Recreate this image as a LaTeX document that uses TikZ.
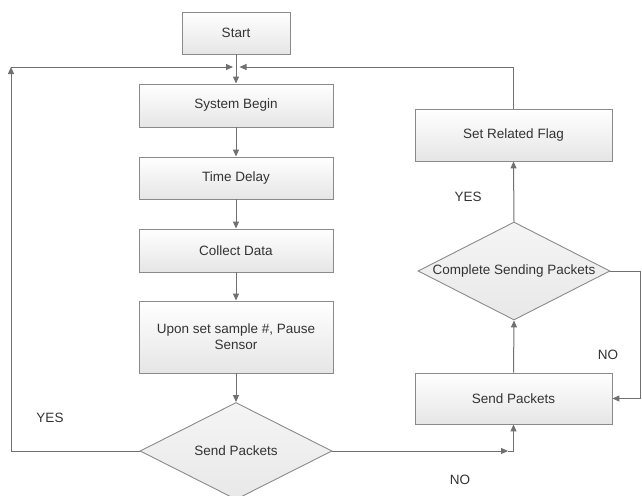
\documentclass[tikz,border=0pt]{standalone}
\usepackage{fontspec}
\setmainfont{Liberation Sans}
\usetikzlibrary{shapes.geometric,arrows.meta,calc}
\definecolor{linec}{HTML}{707070}
\definecolor{boxline}{HTML}{8A8A8A}
\definecolor{txtc}{HTML}{333333}
\begin{document}
\begin{tikzpicture}[x=1pt,y=-1pt,
  font=\fontsize{13.5}{16}\selectfont, text=txtc,
  box/.style={draw=boxline, line width=0.9pt, top color=white, bottom color=black!10, minimum width=#1, inner sep=0pt, align=center},
  dia/.style={draw=boxline, line width=0.9pt, shape=diamond, top color=white!96!black, bottom color=black!9, inner sep=0pt, minimum width=192pt, minimum height=97pt},
  arr/.style={draw=linec, line width=1pt, -{Triangle[length=7pt,width=6pt]}},
  ln/.style={draw=linec, line width=1pt},
  lbl/.style={inner sep=0pt}]
\useasboundingbox (0,0) rectangle (642,495);
% left column
\node[box=108pt, minimum height=42pt] (start) at (236,33) {Start};
\node[box=194pt, minimum height=43pt] (sb) at (236,105.5) {System Begin};
\node[box=194pt, minimum height=42pt] (td) at (236,178) {Time Delay};
\node[box=194pt, minimum height=43pt] (cd) at (236,250.5) {Collect Data};
\node[box=194pt, minimum height=72pt] (up) at (236,337) {Upon set sample \#, Pause\\Sensor};
\node[dia] (spd) at (236,451) {};
\node[lbl] (spdt) at (236,451) {Send Packets};
% right column
\node[box=197pt, minimum height=52pt] (srf) at (513.5,135) {Set Related Flag};
\node[dia, minimum height=98pt] (csp) at (514,271) {};
\node[lbl] (cspt) at (514,271) {Complete Sending Packets};
\node[box=197pt, minimum height=51pt] (spb) at (513.5,398.5) {Send Packets};
% labels
\node[lbl] (yes1) at (50,418) {YES};
\node[lbl] (yes2) at (468,197) {YES};
\node[lbl] (no1) at (608,355) {NO};
\node[lbl] (no2) at (460,480) {NO};
% coordinates
\coordinate (lb) at (11,451);
\coordinate (lt) at (11,67);
\coordinate (jl) at (233,67);
\coordinate (jr) at (239.5,67);
\coordinate (rt) at (513.5,67);
\coordinate (c1) at (508,451);
\coordinate (rr1) at (640.5,271);
\coordinate (rr2) at (640.5,398.5);
% connectors
\draw[arr] (start.south) -- (sb.north);
\draw[arr] (sb) -- (td);
\draw[arr] (td) -- (cd);
\draw[arr] (cd) -- (up);
\draw[arr] (up.south) -- (spd.north);
\draw[arr] (spd.west) -- (lb) -- (lt);
\draw[arr] (lt) -- (jl);
\draw[arr] (srf.north) -- (rt) -- (jr);
\draw[arr] (spd.east) -- (c1);
\draw[arr] (c1) -- (spb.south |- spd.east) -- (spb.south);
\draw[arr] (spb.north) -- (csp.south);
\draw[arr] (csp.north) -- (srf.south);
\draw[arr] (csp.east) -- (rr1) -- (rr2) -- (spb.east);
\end{tikzpicture}
\end{document}
